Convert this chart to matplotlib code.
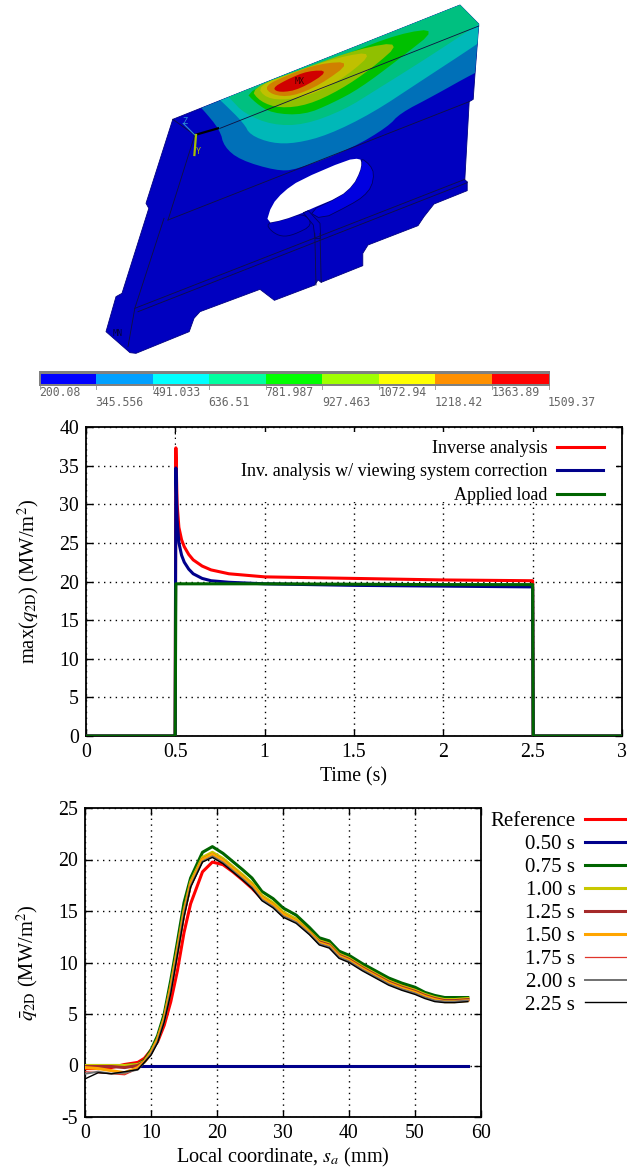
import matplotlib
matplotlib.use("Agg")
import matplotlib.pyplot as plt
from matplotlib.patches import Polygon, Rectangle

plt.rcParams['font.family'] = ['Liberation Serif', 'DejaVu Serif']
plt.rcParams['mathtext.fontset'] = 'stix'

W, H = 627, 1169

# ---------- FE model illustration (outline) ----------
outline = [(432,358),(1150,15),(1197,72),(1187,230),(1183,298),(1173,305),(1162,540),(1168,545),(1168,572),
           (1085,612),(1060,650),(1045,677),(920,735),(907,760),(907,797),(803,847),(795,840),(787,855),
           (686,901),(650,868),(500,935),(485,955),(473,995),(340,1060),(325,1058),(265,995),(290,890),
           (305,880),(372,625),(365,610)]
# hole traced in a second crop (origin 250,140; 3x)
hole = [(330,55),(290,60),(150,120),(100,155),(65,195),(48,250),(100,240),(160,218),(175,210),(270,170),(310,135),(330,95),(335,70)]
hole_wall_right = [(335,55),(360,75),(372,100),(365,140),(340,170),(300,195),(215,238),(175,215),(270,170),(310,135),(330,95),(335,70)]
hole_wall_left = [(48,250),(65,275),(95,290),(130,285),(190,255),(160,218),(100,240)]
slot = [(175,212),(210,250),(212,295),(195,295),(190,255),(160,218)]
far = [(1240,40),(1180,-30),(800,120),(470,280)]
contours = [
    ('#0070b8', [(490,310),(505,325),(550,390),(560,440),(600,480),(690,512),(740,510),(880,445),(970,380),(1000,340),(1080,290),(1187,218),(1240,190)] + far),
    ('#00b8b8', [(540,290),(555,305),(610,370),(625,405),(680,430),(740,430),(820,405),(930,340),(1050,245),(1190,135),(1230,100)] + far),
    ('#00c080', [(560,280),(575,295),(610,340),(680,375),(760,375),(860,330),(940,270),(1060,180),(1197,72)] + far),
    ('#00c000', [(610,272),(640,310),(680,340),(760,345),(830,310),(900,265),(1000,175),(1095,85),(1000,100),(860,165)]),
    ('#90c000', [(625,265),(650,305),(700,325),(770,315),(850,270),(930,205),(1005,125),(900,145),(760,205)]),
    ('#c0c000', [(642,258),(665,295),(720,300),(790,280),(870,225),(935,155),(850,170),(740,215)]),
    ('#d08000', [(660,258),(680,285),(730,290),(800,255),(880,185),(800,190),(720,225)]),
    ('#d00000', [(680,265),(700,278),(750,268),(825,212),(770,212),(715,240)]),
]
edges = [
    [(550,385),(1197,78)],
    [(1173,305),(420,660)],
    [(432,358),(487,405),(420,660)],
    [(410,655),(337,925),(320,1040)],
    [(337,925),(1162,538)],
    [(345,935),(1168,548)],
    [(800,700),(803,847)],
    [(787,700),(790,855)],
]

# ---------- colour bar ----------
bar_colors = ['#0000ff','#00a0ff','#00ffff','#00ffa0','#00ff00','#a0ff00','#ffff00','#ff9000','#ff0000']
bar_labels = ['200.08','345.556','491.033','636.51','781.987','927.463','1072.94','1218.42','1363.89','1509.37']

# ---------- upper chart ----------
time_red = [0,0.499,0.503,0.51,0.52,0.535,0.55,0.575,0.6,0.65,0.7,0.8,0.9,1.0,1.25,1.5,2.0,2.5,2.503,3.0]
q_red    = [0,0,37.3,30.0,27.0,25.4,24.5,23.5,22.8,22.0,21.5,21.0,20.8,20.6,20.5,20.4,20.2,20.1,0,0]
time_blue = [0,0.499,0.503,0.51,0.52,0.535,0.55,0.575,0.6,0.65,0.7,0.8,0.9,1.0,1.25,1.5,2.0,2.5,2.503,3.0]
q_blue    = [0,0,34.7,28.0,25.0,23.4,22.5,21.6,21.0,20.4,20.1,19.9,19.8,19.7,19.6,19.5,19.4,19.3,0,0]
time_green = [0,0.499,0.503,1.0,2.0,2.5,2.503,3.0]
q_green    = [0,0,19.7,19.7,19.6,19.6,0,0]

# ---------- lower chart ----------
s = [0,2,4,6,8,9,10,11,12,13,14,15,16,17.8,19.3,20.9,22.4,23.9,25.3,26.8,28.5,30,32,34,35.5,37,38.5,40,42,44,46,48,50,51.5,53,54.5,56,58]
ref   = [-.3,-.3,-.2,.1,.3,.7,1.5,2.3,3.9,6.2,9.2,12.9,15.7,18.8,19.75,19.5,18.8,18.0,17.2,16.2,15.6,14.8,14.2,13.1,12.2,11.8,10.9,10.4,9.7,9.0,8.3,7.8,7.4,6.9,6.6,6.4,6.3,6.4]
t050  = [0,0,0,0,0,0,0,0,0,0,0,0,0,0,0,0,0,0,0,0,0,0,0,0,0,0,0,0,0,0,0,0,0,0,0,0,0,0]
t075  = [0,0,0,0,.1,.5,1.5,2.9,5.0,8.3,12.0,15.8,18.2,20.7,21.25,20.6,19.8,19.0,18.2,16.9,16.2,15.3,14.6,13.4,12.4,12.1,11.1,10.7,9.9,9.2,8.5,8.0,7.6,7.1,6.8,6.6,6.6,6.6]
t100  = [0,0,0,0,.1,.4,1.3,2.6,4.6,7.7,11.3,15.0,17.8,20.2,20.7,20.1,19.3,18.5,17.7,16.5,15.8,14.9,14.2,13.0,12.1,11.8,10.8,10.4,9.6,8.9,8.2,7.7,7.3,6.9,6.6,6.4,6.4,6.5]
t125  = [-.1,-.1,-.1,-.2,.0,.35,1.2,2.5,4.5,7.5,11.1,14.8,17.6,20.0,20.5,19.9,19.1,18.3,17.5,16.3,15.6,14.7,14.0,12.9,12.0,11.7,10.7,10.3,9.5,8.8,8.1,7.6,7.2,6.8,6.5,6.3,6.3,6.4]
t150  = [-.2,-.3,-.5,-.7,-.2,.35,1.2,2.5,4.5,7.5,11.1,14.8,17.6,20.0,20.5,19.9,19.1,18.3,17.5,16.3,15.6,14.7,14.0,12.9,11.9,11.6,10.6,10.2,9.4,8.7,8.0,7.5,7.1,6.7,6.4,6.2,6.2,6.3]
t175  = [-.6,-.7,-.8,-.9,-.3,.3,1.1,2.3,4.3,7.2,10.9,14.6,17.4,19.8,20.3,19.7,18.9,18.1,17.3,16.1,15.4,14.5,13.9,12.8,11.8,11.5,10.5,10.1,9.3,8.6,7.9,7.4,7.0,6.6,6.3,6.2,6.2,6.3]
t200  = [-.8,-.6,-.8,-.7,-.4,.3,1.1,2.3,4.3,7.2,10.9,14.6,17.4,19.8,20.3,19.7,18.9,18.1,17.3,16.1,15.4,14.5,13.9,12.8,11.8,11.5,10.5,10.1,9.3,8.6,7.9,7.4,7.0,6.6,6.3,6.2,6.2,6.3]
t225  = [-1.3,-.7,-.8,-.6,-.4,.3,1.0,2.2,4.2,7.0,10.7,14.4,17.3,19.75,20.2,19.6,18.8,18.0,17.2,16.0,15.3,14.4,13.8,12.7,11.7,11.4,10.4,10.0,9.2,8.5,7.8,7.3,6.9,6.5,6.2,6.1,6.1,6.2]

series_low = [('Reference', ref, '#ff0000', 2.2), ('0.50 s', t050, '#00008b', 2.2), ('0.75 s', t075, '#006400', 2.2),
              ('1.00 s', t100, '#c8c800', 2.2), ('1.25 s', t125, '#a52a2a', 2.2), ('1.50 s', t150, '#ffa500', 2.2),
              ('1.75 s', t175, '#e0352b', 0.9), ('2.00 s', t200, '#707070', 1.4), ('2.25 s', t225, '#000000', 1.0)]

fig = plt.figure(figsize=(W / 100, H / 100), dpi=100)

# ----- illustration layer in pixel coordinates -----
bg = fig.add_axes([0, 0, 1, 1])
bg.set_xlim(0, W); bg.set_ylim(H, 0); bg.axis('off')
def Z(pts):
    return [(x / 2.5, y / 3.0) for x, y in pts]
def C(pts):
    return [(250 + x / 3.0, 140 + y / 3.0) for x, y in pts]
def smooth(pts, n=2):
    for _ in range(n):
        new = []
        for i in range(len(pts)):
            a, b = pts[i], pts[(i + 1) % len(pts)]
            new.append((0.75 * a[0] + 0.25 * b[0], 0.75 * a[1] + 0.25 * b[1]))
            new.append((0.25 * a[0] + 0.75 * b[0], 0.25 * a[1] + 0.75 * b[1]))
        pts = new
    return pts
body = Polygon(Z(outline), closed=True, fc='#0000c0', ec='#000080', lw=0.6, zorder=1)
bg.add_patch(body)
for col, pts in contours:
    p = Polygon(smooth(Z(pts)), closed=True, fc=col, ec='none', zorder=2)
    bg.add_patch(p)
    p.set_clip_path(body)
bg.add_patch(Polygon(smooth(C(hole_wall_left)), closed=True, fc='#0000c8', ec='#000060', lw=0.6, zorder=3))
bg.add_patch(Polygon(smooth(C(hole_wall_right), 1), closed=True, fc='#0000e0', ec='#000060', lw=0.6, zorder=3))
bg.add_patch(Polygon(smooth(C(hole), 1), closed=True, fc='white', ec='none', zorder=4))
bg.add_patch(Polygon(C(slot), closed=True, fc='#0000c8', ec='#000060', lw=0.6, zorder=5))
for e in edges:
    xs, ys = zip(*Z(e))
    bg.plot(xs, ys, color='#101040', lw=0.6, zorder=5)
xs, ys = zip(*Z([(487,405),(545,385)]))
bg.plot(xs, ys, color='black', lw=1.6, zorder=6)
xs, ys = zip(*Z([(490,405),(486,465)]))
bg.plot(xs, ys, color='#a8c000', lw=1.6, zorder=6)
xs, ys = zip(*Z([(487,405),(458,370)]))
bg.plot(xs, ys, color='#3090d0', lw=0.8, zorder=6)
bg.text(462 / 2.5, 365 / 3, 'Z', color='#3090d0', fontsize=6, family='DejaVu Sans Mono', ha='center', va='center', zorder=7)
bg.text(495 / 2.5, 455 / 3, 'Y', color='#a8c000', fontsize=6, family='DejaVu Sans Mono', ha='center', va='center', zorder=7)
bg.text(750 / 2.5, 244 / 3, 'MX', color='#400000', fontsize=6, family='DejaVu Sans Mono', ha='center', va='center', zorder=7)
bg.text(293 / 2.5, 999 / 3, 'MN', color='#000040', fontsize=6, family='DejaVu Sans Mono', ha='center', va='center', zorder=7)

# colour bar
bx0, bx1 = 39.5, 548.5
bg.add_patch(Rectangle((bx0 - 1, 371), bx1 - bx0 + 2, 15, fc='#808080', ec='none', zorder=1))
seg = (bx1 - bx0) / len(bar_colors)
for i, c in enumerate(bar_colors):
    bg.add_patch(Rectangle((bx0 + i * seg + (1 if i == 0 else 0), 373.5), seg, 10, fc=c, ec='none', zorder=2))
clip = Rectangle((0, 385), W, 21.5, transform=bg.transData)
for i, lab in enumerate(bar_labels):
    y = 393 if i % 2 == 0 else 402.5
    if i == 9:
        y = 402.5
    x = bx0 + i * seg
    bg.plot([x, x], [386, 389], color='#a0a0a0', lw=0.7, zorder=2)
    t = bg.text(x - 0.5, y, lab, family='DejaVu Sans Mono', fontsize=8.3, color='#666666', ha='left', va='center', zorder=3)
    t.set_clip_path(clip)

def axes_px(x0, x1, ytop, ybot):
    return fig.add_axes([x0 / W, 1 - ybot / H, (x1 - x0) / W, (ybot - ytop) / H])

def style(ax):
    ax.grid(True, color='black', linestyle=(0, (1, 3.2)), linewidth=1.0, zorder=0)
    ax.set_axisbelow(True)
    ax.tick_params(direction='in', top=True, right=True, length=5, width=1.0, labelsize=14.3, pad=5, color='black')
    for sp in ax.spines.values():
        sp.set_linewidth(1.3)
    ax.patch.set_alpha(0)

# ----- upper chart -----
a1 = axes_px(86, 622, 427, 736)
a1.set_xlim(0, 3); a1.set_ylim(0, 40)
a1.set_xticks([0, 0.5, 1, 1.5, 2, 2.5, 3]); a1.set_xticklabels(['0', '0.5', '1', '1.5', '2', '2.5', '3'])
a1.set_yticks(range(0, 41, 5))
style(a1)
a1.add_patch(Rectangle((0.505, 30.3), 2.46, 9.0, fc='white', ec='none', zorder=1))
a1.plot(time_red, q_red, color='#ff0000', lw=2.2, zorder=3, label='Inverse analysis')
a1.plot(time_blue, q_blue, color='#00008b', lw=2.2, zorder=4, label='Inv. analysis w/ viewing system correction')
a1.plot(time_green, q_green, color='#006400', lw=2.2, zorder=5, label='Applied load')
a1.set_xlabel('Time (s)', fontsize=14.2, labelpad=4)
a1.set_ylabel(r'max($q_{\mathrm{2D}}$) (MW/m$^2$)', fontsize=14.8, labelpad=13)
a1.legend(loc='upper right', bbox_to_anchor=((603.5 - 86) / 536, 1 - 13 / 309), borderaxespad=0, borderpad=0, frameon=False,
          markerfirst=False, fontsize=13, handlelength=2.55, handletextpad=0.55, labelspacing=0.355)

# ----- lower chart -----
a2 = axes_px(85, 481, 808, 1117)
a2.set_xlim(0, 60); a2.set_ylim(-5, 25)
a2.set_xticks(range(0, 61, 10)); a2.set_yticks(range(-5, 26, 5))
a2.set_yticklabels(['-5', '0', '5', '10', '15', '20', '25'])
style(a2)
for lab, vals, col, lw in series_low:
    a2.plot(s, vals, color=col, lw=lw, zorder=3, label=lab)
a2.set_xlabel(r'Local coordinate, $s_a$ (mm)', fontsize=14.6, labelpad=2)
a2.set_ylabel(r'$\bar{q}_{\mathrm{2D}}$ (MW/m$^2$)', fontsize=14.8, labelpad=13)
handles, labels = a2.get_legend_handles_labels()
a2.legend(handles, labels, loc='upper right', bbox_to_anchor=((627 - 85) / 396, 1 - 3.8 / 309), borderaxespad=0, frameon=False, markerfirst=False,
          fontsize=15, handlelength=2.0, handletextpad=0.48, labelspacing=0.16, borderpad=0.0)

fig.savefig('out.png', dpi=100)
